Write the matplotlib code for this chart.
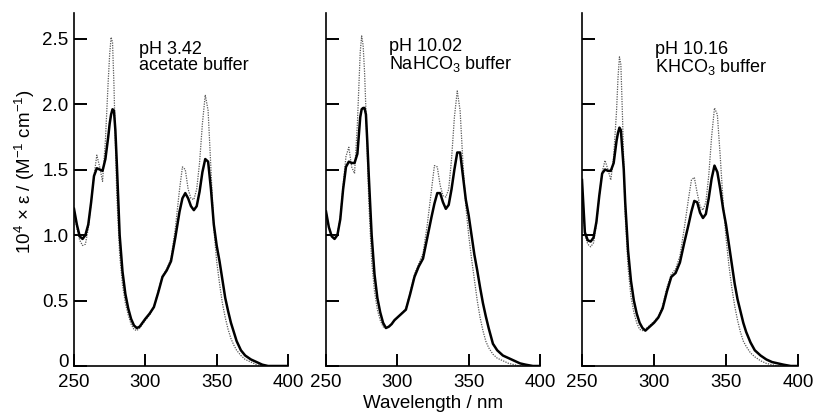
import numpy as np
import matplotlib
matplotlib.use('Agg')
import matplotlib.pyplot as plt
from matplotlib.transforms import ScaledTranslation

plt.rcParams['font.family'] = ['Liberation Sans', 'DejaVu Sans']
plt.rcParams['mathtext.fontset'] = 'custom'
plt.rcParams['mathtext.rm'] = 'Liberation Sans'
plt.rcParams['mathtext.it'] = 'Liberation Sans'

# wavelength grid (nm) shared by all traces
wl = [250, 252, 254, 256, 258, 260, 262, 264, 266, 268, 270, 272, 274, 275, 276, 277, 278, 279, 280,
      282, 284, 286, 288, 290, 292, 294, 296, 298, 300, 303, 306, 309, 312, 315, 318, 321, 324, 326,
      328, 330, 332, 334, 336, 338, 340, 342, 344, 346, 348, 350, 352, 354, 356, 358, 360, 362, 364,
      367, 370, 374, 378, 382, 386, 390, 395, 400]

# pH 3.42 acetate buffer
ph342_solid = [1.20, 1.08, 0.99, 0.97, 1.00, 1.08, 1.25, 1.45, 1.51, 1.50, 1.49, 1.58, 1.75, 1.85, 1.92, 1.96, 1.95, 1.80, 1.55,
               1.00, 0.72, 0.55, 0.44, 0.36, 0.31, 0.29, 0.30, 0.33, 0.36, 0.40, 0.45, 0.56, 0.68, 0.73, 0.80, 0.98, 1.18, 1.28,
               1.32, 1.28, 1.22, 1.19, 1.22, 1.33, 1.48, 1.58, 1.56, 1.35, 1.08, 0.92, 0.80, 0.66, 0.52, 0.42, 0.33, 0.26, 0.19,
               0.12, 0.08, 0.05, 0.03, 0.01, 0.0, 0.0, 0.0, 0.0]
ph342_dot = [1.20, 1.05, 0.96, 0.92, 0.93, 1.05, 1.25, 1.45, 1.61, 1.52, 1.41, 1.72, 2.18, 2.38, 2.51, 2.47, 2.15, 1.70, 1.30,
             0.85, 0.62, 0.48, 0.39, 0.32, 0.28, 0.27, 0.29, 0.32, 0.35, 0.39, 0.45, 0.57, 0.69, 0.74, 0.82, 1.05, 1.35, 1.52,
             1.50, 1.35, 1.28, 1.27, 1.35, 1.55, 1.85, 2.07, 1.95, 1.50, 1.05, 0.80, 0.63, 0.48, 0.37, 0.28, 0.21, 0.16, 0.12,
             0.08, 0.05, 0.03, 0.01, 0.0, 0.0, 0.0, 0.0, 0.0]

# pH 10.02 NaHCO3 buffer
ph1002_solid = [1.18, 1.06, 0.99, 0.97, 1.00, 1.12, 1.35, 1.52, 1.56, 1.55, 1.55, 1.62, 1.90, 1.96, 1.97, 1.97, 1.92, 1.70, 1.45,
                1.00, 0.70, 0.52, 0.41, 0.33, 0.29, 0.30, 0.32, 0.35, 0.37, 0.40, 0.43, 0.55, 0.68, 0.76, 0.82, 0.98, 1.14, 1.24,
                1.32, 1.32, 1.25, 1.20, 1.23, 1.35, 1.50, 1.63, 1.63, 1.45, 1.27, 1.15, 1.00, 0.85, 0.73, 0.60, 0.48, 0.38, 0.29,
                0.17, 0.12, 0.08, 0.06, 0.04, 0.02, 0.01, 0.0, 0.0]
ph1002_dot = [1.18, 1.06, 1.00, 0.98, 1.01, 1.13, 1.38, 1.60, 1.67, 1.52, 1.47, 1.85, 2.40, 2.52, 2.45, 2.25, 1.95, 1.60, 1.25,
              0.80, 0.57, 0.43, 0.35, 0.30, 0.29, 0.30, 0.32, 0.35, 0.37, 0.40, 0.44, 0.56, 0.70, 0.78, 0.86, 1.08, 1.35, 1.53,
              1.52, 1.38, 1.30, 1.29, 1.35, 1.58, 1.90, 2.10, 1.95, 1.55, 1.22, 1.00, 0.82, 0.66, 0.50, 0.37, 0.27, 0.19, 0.14,
              0.09, 0.06, 0.04, 0.02, 0.01, 0.0, 0.0, 0.0, 0.0]

# pH 10.16 KHCO3 buffer
ph1016_solid = [1.42, 1.02, 0.96, 0.95, 0.98, 1.10, 1.30, 1.47, 1.50, 1.49, 1.49, 1.55, 1.72, 1.78, 1.82, 1.80, 1.65, 1.50, 1.25,
                0.88, 0.65, 0.50, 0.40, 0.33, 0.29, 0.27, 0.29, 0.31, 0.33, 0.37, 0.44, 0.57, 0.68, 0.71, 0.79, 0.94, 1.08, 1.18,
                1.26, 1.25, 1.17, 1.13, 1.16, 1.28, 1.43, 1.53, 1.48, 1.35, 1.20, 1.08, 0.93, 0.78, 0.63, 0.51, 0.42, 0.33, 0.26,
                0.18, 0.12, 0.08, 0.05, 0.03, 0.02, 0.01, 0.0, 0.0]
ph1016_dot = [1.40, 1.00, 0.93, 0.91, 0.94, 1.08, 1.30, 1.48, 1.57, 1.50, 1.42, 1.60, 1.95, 2.20, 2.36, 2.30, 1.95, 1.55, 1.15,
              0.75, 0.53, 0.41, 0.33, 0.28, 0.27, 0.28, 0.30, 0.32, 0.34, 0.38, 0.46, 0.60, 0.70, 0.74, 0.84, 1.05, 1.28, 1.42,
              1.44, 1.32, 1.22, 1.19, 1.25, 1.45, 1.75, 1.97, 1.92, 1.60, 1.25, 0.98, 0.77, 0.60, 0.46, 0.35, 0.26, 0.19, 0.15,
              0.10, 0.07, 0.04, 0.02, 0.01, 0.0, 0.0, 0.0, 0.0]

panel_labels = ['pH 3.42\nacetate buffer', 'pH 10.02\nNaHCO$_3$ buffer', 'pH 10.16\nKHCO$_3$ buffer']
solids = [ph342_solid, ph1002_solid, ph1016_solid]
dots = [ph342_dot, ph1002_dot, ph1016_dot]

xticks = [250, 300, 350, 400]
yticks = [0, 0.5, 1.0, 1.5, 2.0, 2.5]
ytick_labels = ['0', '0.5', '1.0', '1.5', '2.0', '2.5']

W, H = 818, 419
fig = plt.figure(figsize=(W / 100, H / 100), dpi=100)

lefts = [74, 326, 582]
widths = [214, 214, 216]
text_x = [295.5, 294.3, 300.7]
text_y = [2.26, 2.267, 2.244]   # baseline of the second line

for i in range(3):
    ax = fig.add_axes([lefts[i] / W, 53 / H, widths[i] / W, 353 / H])
    ax.plot(wl, dots[i], color='0.35', lw=0.9, ls=(0, (1, 1)))
    ax.plot(wl, solids[i], color='black', lw=1.8)
    ax.set_xlim(250, 400)
    ax.set_ylim(0, 2.695)
    ax.set_xticks(xticks)
    ax.set_yticks(yticks)
    if i == 0:
        ax.set_yticklabels(ytick_labels)
    else:
        ax.set_yticklabels([])
    ax.spines['top'].set_visible(False)
    ax.spines['right'].set_visible(False)
    for s in ['left', 'bottom']:
        ax.spines[s].set_linewidth(1.2)
    ax.tick_params(axis='both', direction='in', length=9, width=1.4, labelsize=13.5)
    ax.tick_params(axis='x', pad=5.5)
    ax.tick_params(axis='y', pad=4)
    ax.text(text_x[i], text_y[i], panel_labels[i], fontsize=13, va='baseline', linespacing=0.95)
    if i == 1:
        ax.set_xlabel('Wavelength / nm', fontsize=13.5, labelpad=3)
    if i == 0:
        # the "0" label sits a little above the axis line
        lab = ax.yaxis.get_major_ticks()[0].label1
        lab.set_transform(lab.get_transform() + ScaledTranslation(0, 0.06, fig.dpi_scale_trans))

fig.text(25 / W, 1 - 172 / H, '10$^4$ × ε / (M$^{-1}$ cm$^{-1}$)', rotation=90,
         ha='center', va='center', fontsize=13.5)

fig.savefig('out.png', dpi=100)
